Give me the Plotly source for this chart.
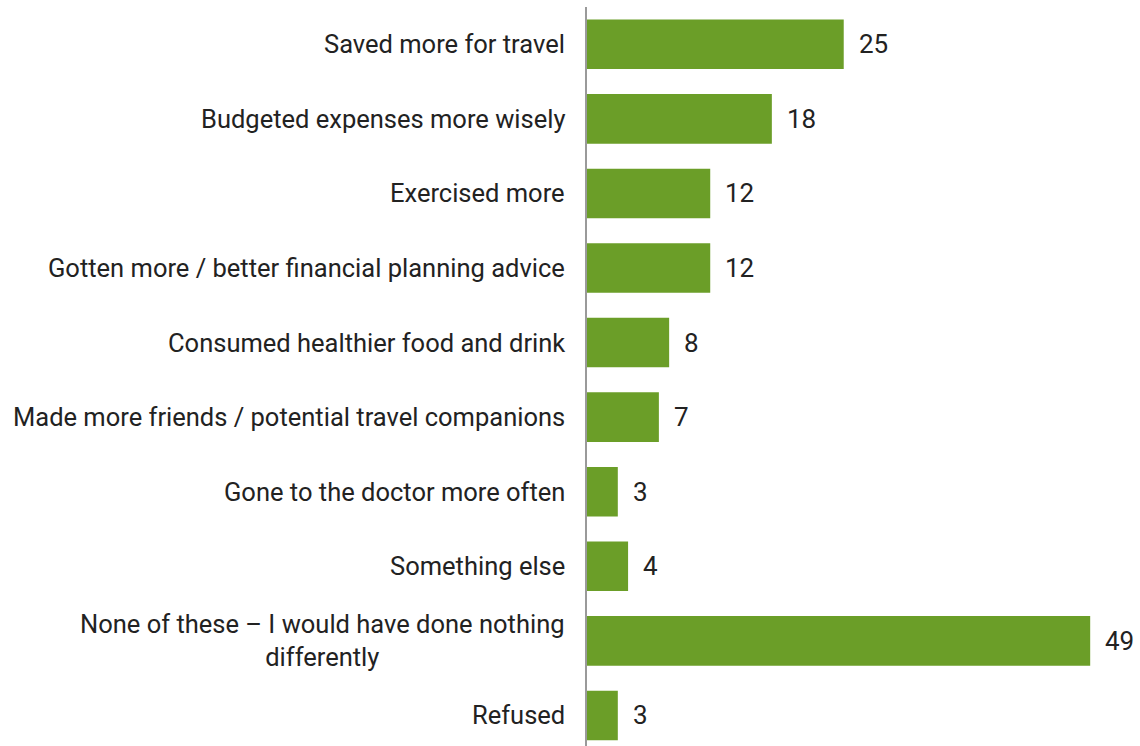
import plotly.graph_objects as go

categories = [
    "Saved more for travel",
    "Budgeted expenses more wisely",
    "Exercised more",
    "Gotten more / better financial planning advice",
    "Consumed healthier food and drink",
    "Made more friends / potential travel companions",
    "Gone to the doctor more often",
    "Something else",
    "None of these – I would have done nothing<br>differently",
    "Refused",
]
values = [25, 18, 12, 12, 8, 7, 3, 4, 49, 3]

BAR_COLOR = "#6b9e28"
TEXT_COLOR = "#222222"
FONT = "Roboto, Arial, sans-serif"

fig = go.Figure(
    go.Bar(
        x=values,
        y=categories,
        orientation="h",
        marker=dict(color=BAR_COLOR, line=dict(width=0)),
        width=0.665,
        hoverinfo="x+y",
    )
)

# value labels to the right of each bar
for cat, val in zip(categories, values):
    fig.add_annotation(
        x=val, y=cat, xref="x", yref="y",
        text=str(val), showarrow=False,
        xanchor="left", yanchor="middle", xshift=13,
        font=dict(family=FONT, size=26, color=TEXT_COLOR),
    )

# category labels, centred line-by-line, right-aligned against the axis
for cat in categories:
    fig.add_annotation(
        x=0, y=cat, xref="paper", yref="y",
        text=cat, showarrow=False, align="center",
        xanchor="right", yanchor="middle", xshift=-20,
        font=dict(family=FONT, size=25.5, color=TEXT_COLOR),
    )

fig.update_layout(
    width=1140, height=746,
    margin=dict(l=587, r=0, t=7, b=0),
    paper_bgcolor="white", plot_bgcolor="white",
    showlegend=False,
    xaxis=dict(range=[0, 53.85], visible=False, fixedrange=True),
    yaxis=dict(
        categoryorder="array", categoryarray=categories,
        range=[9.41, -0.5],
        showticklabels=False, ticks="",
        showgrid=False, zeroline=False,
        showline=True, linecolor="#9a9a9a", linewidth=1.5,
    ),
)

fig.write_html("out.html")
